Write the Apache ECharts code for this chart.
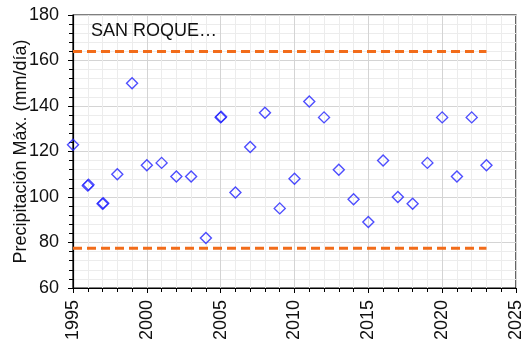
<!DOCTYPE html>
<html>
<head>
<meta charset="utf-8">
<script src="https://cdn.jsdelivr.net/npm/echarts@6/dist/echarts.min.js"></script>
<style>
  html, body { margin: 0; padding: 0; background: #fff; }
  #chart { width: 525px; height: 348px; }
</style>
</head>
<body>
<div id="chart"></div>
<script>
// Annual maximum daily precipitation, station San Roque
const years = [1995, 1996, 1996.05, 1997, 1997.05, 1998, 1999, 2000, 2001, 2002, 2003, 2004,
  2005, 2005.03, 2006, 2007, 2008, 2009, 2010, 2011, 2012, 2013, 2014, 2015, 2016, 2017,
  2018, 2019, 2020, 2021, 2022, 2023];
const maxPrecip = [123, 105, 105.4, 97, 97.3, 110, 150, 114, 115, 109, 109, 82,
  135, 135.3, 102, 122, 137, 95, 108, 142, 135, 112, 99, 89, 116, 100,
  97, 115, 135, 109, 135, 114];

// Upper and lower reference thresholds
const thresholdYears = [1995, 2023];
const upperLimit = 164;
const lowerLimit = 77.5;

const stationLabel = 'SAN ROQUE…';
const yAxisTitle = 'Precipitación Máx. (mm/día)';

const font = 'Liberation Sans, Arial, sans-serif';

const chart = echarts.init(document.getElementById('chart'));
chart.setOption({
  animation: false,
  backgroundColor: '#ffffff',
  title: {
    text: stationLabel,
    left: 86,
    top: 17,
    textStyle: { fontFamily: font, fontSize: 18, fontWeight: 'normal', color: '#111' }
  },
  grid: {
    left: 73, right: 9, top: 15, bottom: 60,
    outerBoundsMode: 'none',
    containLabel: false,
    show: true, borderColor: '#000', borderWidth: 1.2, backgroundColor: 'transparent'
  },
  xAxis: {
    type: 'value',
    min: 1995, max: 2025, interval: 5,
    axisLine: { show: true, onZero: false, lineStyle: { color: '#000', width: 1.2 } },
    axisTick: { show: true, inside: false, length: 5, lineStyle: { color: '#000' } },
    minorTick: { show: true, splitNumber: 5, length: 4, lineStyle: { color: '#000' } },
    splitLine: { show: true, lineStyle: { color: '#d4d4d4', width: 1 } },
    minorSplitLine: { show: true, lineStyle: { color: '#ececec', width: 1 } },
    axisLabel: {
      rotate: 90, fontFamily: font, fontSize: 18, color: '#111', margin: 12,
      formatter: v => String(v)
    }
  },
  yAxis: {
    type: 'value',
    min: 60, max: 180, interval: 20,
    name: yAxisTitle,
    nameLocation: 'middle',
    nameGap: 43,
    nameMoveOverlap: false,
    nameTextStyle: { fontFamily: font, fontSize: 18, color: '#111' },
    axisLine: { show: true, lineStyle: { color: '#000', width: 1.2 } },
    axisTick: { show: true, inside: false, length: 5, lineStyle: { color: '#000' } },
    minorTick: { show: true, splitNumber: 5, length: 4, lineStyle: { color: '#000' } },
    splitLine: { show: true, lineStyle: { color: '#d4d4d4', width: 1 } },
    minorSplitLine: { show: true, lineStyle: { color: '#ececec', width: 1 } },
    axisLabel: { fontFamily: font, fontSize: 18, color: '#111', margin: 14 }
  },
  series: [
    {
      type: 'line',
      data: thresholdYears.map(x => [x, upperLimit]),
      symbol: 'none',
      lineStyle: { color: '#f26c1a', width: 3, type: [9, 5] },
      z: 3
    },
    {
      type: 'line',
      data: thresholdYears.map(x => [x, lowerLimit]),
      symbol: 'none',
      lineStyle: { color: '#f26c1a', width: 3, type: [9, 5] },
      z: 3
    },
    {
      type: 'scatter',
      data: years.map((y, i) => [y, maxPrecip[i]]),
      symbol: 'diamond',
      symbolSize: [11, 11],
      itemStyle: { color: 'rgba(255,255,255,0)', borderColor: '#2222ff', borderWidth: 1.4 },
      z: 4
    }
  ]
});
</script>
</body>
</html>
